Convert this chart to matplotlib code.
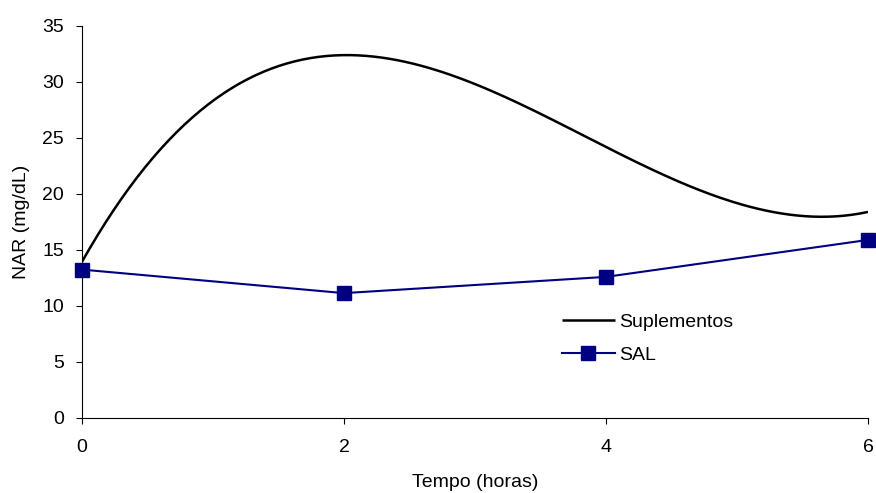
import numpy as np
import matplotlib
matplotlib.use("Agg")
import matplotlib.pyplot as plt

# NAR over time for the two treatments
horas = [0, 2, 4, 6]
suplementos = [13.95, 32.4, 24.2, 18.4]
sal = [13.25, 11.15, 12.6, 15.9]

plt.rcParams['font.family'] = ['Liberation Sans', 'DejaVu Sans']
plt.rcParams['font.size'] = 14

fig = plt.figure(figsize=(8.76, 4.93), dpi=100)
ax = fig.add_axes([82 / 876, 75 / 493, 786 / 876, 392 / 493])

# smooth cubic through the supplement points
coef = np.polyfit(horas, suplementos, 3)
xs = np.linspace(horas[0], horas[-1], 300)
ax.plot(xs, np.polyval(coef, xs), color='black', lw=1.8, label='Suplementos',
        solid_capstyle='butt')
ax.plot(horas, sal, color='#000080', lw=1.5, marker='s', markersize=10,
        label='SAL', clip_on=False, zorder=3)

ax.set_xlim(0, 6)
ax.set_ylim(0, 35)
ax.set_xticks(horas)
ax.set_yticks(range(0, 36, 5))
ax.tick_params(direction='out', length=4, width=0.8, labelsize=14)
ax.tick_params(axis='x', pad=11)
ax.tick_params(axis='y', pad=9)

for side in ['top', 'right']:
    ax.spines[side].set_visible(False)
for side in ['left', 'bottom']:
    ax.spines[side].set_linewidth(0.8)

ax.set_xlabel('Tempo (horas)', fontsize=14, labelpad=13)
ax.set_ylabel('NAR (mg/dL)', fontsize=14, labelpad=9)

ax.legend(loc='upper left', bbox_to_anchor=(0.611, 0.268), frameon=False,
          fontsize=14, handlelength=2.7, handletextpad=0.25,
          labelspacing=0.8, borderpad=0, borderaxespad=0)

fig.savefig('out.png', dpi=100)
